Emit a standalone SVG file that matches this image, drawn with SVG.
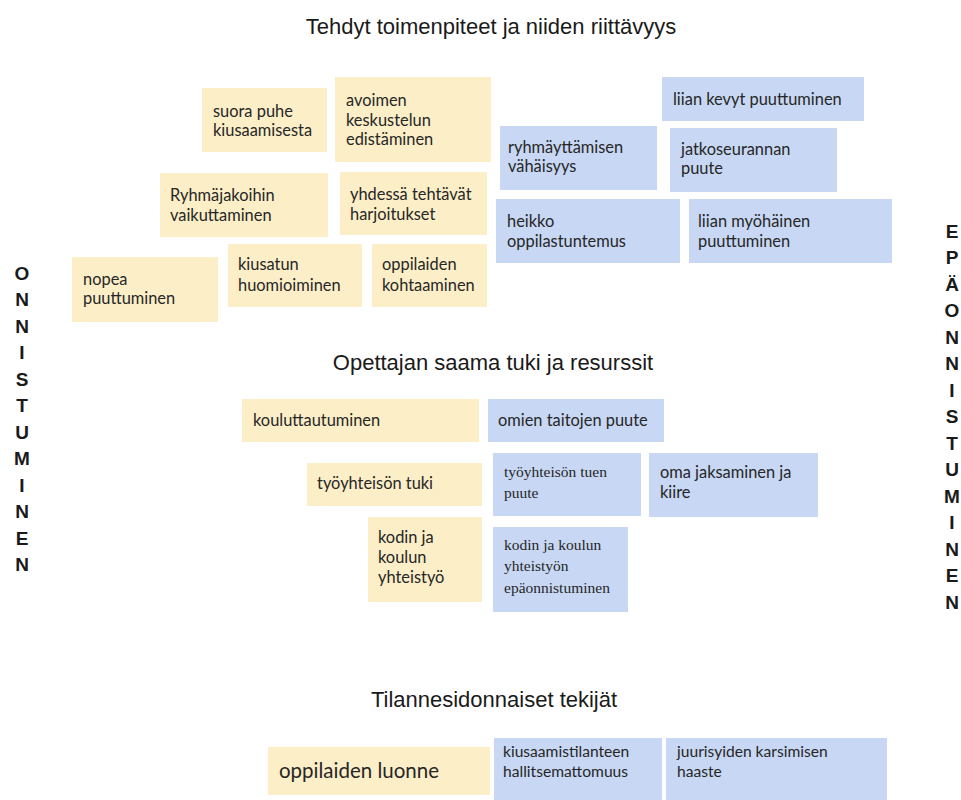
<svg xmlns="http://www.w3.org/2000/svg" width="961" height="800" viewBox="0 0 961 800">
<style>
.y{fill:#FCEFC8}
.b{fill:#C8D8F4}
.t{font-family:Lato,"Open Sans","Liberation Sans",sans-serif;font-size:16.4px;fill:#262626}
.s{font-family:"Liberation Serif","DejaVu Serif",serif;font-size:15.5px;fill:#262626}
.h{font-family:"Liberation Sans",Arial,sans-serif;font-size:22px;fill:#1a1a1a;text-anchor:middle}
.v{font-family:"Liberation Sans",Arial,sans-serif;font-size:19px;font-weight:bold;fill:#1a1a1a;text-anchor:middle}
</style>
<rect width="961" height="800" fill="#ffffff"/>
<g id="titles">
<text class="h" x="491" y="34">Tehdyt toimenpiteet ja niiden riittävyys</text>
<text class="h" x="493" y="370">Opettajan saama tuki ja resurssit</text>
<text class="h" x="494" y="707">Tilannesidonnaiset tekijät</text>
</g>
<g id="side-left">
<text class="v"><tspan x="22" y="279.5">O</tspan><tspan x="22" y="306">N</tspan><tspan x="22" y="332.5">N</tspan><tspan x="22" y="359">I</tspan><tspan x="22" y="385.5">S</tspan><tspan x="22" y="412">T</tspan><tspan x="22" y="438.5">U</tspan><tspan x="22" y="465">M</tspan><tspan x="22" y="491.5">I</tspan><tspan x="22" y="518">N</tspan><tspan x="22" y="544.5">E</tspan><tspan x="22" y="571">N</tspan></text>
</g>
<g id="side-right">
<text class="v"><tspan x="952" y="237.5">E</tspan><tspan x="952" y="264">P</tspan><tspan x="952" y="290.5">Ä</tspan><tspan x="952" y="317">O</tspan><tspan x="952" y="343.5">N</tspan><tspan x="952" y="370">N</tspan><tspan x="952" y="396.5">I</tspan><tspan x="952" y="423">S</tspan><tspan x="952" y="449.5">T</tspan><tspan x="952" y="476">U</tspan><tspan x="952" y="502.5">M</tspan><tspan x="952" y="529">I</tspan><tspan x="952" y="555.5">N</tspan><tspan x="952" y="582">E</tspan><tspan x="952" y="608.5">N</tspan></text>
</g>
<g id="connectors"></g>

<g id="n-suora-puhe"><rect class="y" x="202" y="88" width="125" height="64"/><text class="t"><tspan x="213" y="116.5">suora puhe</tspan><tspan x="213" y="136">kiusaamisesta</tspan></text></g>
<g id="n-avoimen"><rect class="y" x="335" y="77" width="156" height="85"/><text class="t"><tspan x="346" y="106">avoimen</tspan><tspan x="346" y="125.5">keskustelun</tspan><tspan x="346" y="145">edistäminen</tspan></text></g>
<g id="n-ryhmajakoihin"><rect class="y" x="160" y="173" width="168" height="64"/><text class="t"><tspan x="170" y="201">Ryhmäjakoihin</tspan><tspan x="170" y="220.5">vaikuttaminen</tspan></text></g>
<g id="n-yhdessa"><rect class="y" x="340" y="172" width="147" height="63"/><text class="t"><tspan x="350" y="200">yhdessä tehtävät</tspan><tspan x="350" y="219.5">harjoitukset</tspan></text></g>
<g id="n-nopea"><rect class="y" x="72" y="257" width="146" height="65"/><text class="t"><tspan x="83" y="285">nopea</tspan><tspan x="83" y="304">puuttuminen</tspan></text></g>
<g id="n-kiusatun"><rect class="y" x="228" y="244" width="134" height="63"/><text class="t"><tspan x="238" y="270">kiusatun</tspan><tspan x="238" y="290.5">huomioiminen</tspan></text></g>
<g id="n-oppilaiden-kohtaaminen"><rect class="y" x="372" y="244" width="115" height="63"/><text class="t"><tspan x="382" y="270">oppilaiden</tspan><tspan x="382" y="290.5">kohtaaminen</tspan></text></g>

<g id="n-liian-kevyt"><rect class="b" x="662" y="77" width="202" height="44"/><text class="t" x="673" y="105">liian kevyt puuttuminen</text></g>
<g id="n-ryhmayttamisen"><rect class="b" x="500" y="126" width="157" height="64"/><text class="t"><tspan x="508" y="153">ryhmäyttämisen</tspan><tspan x="508" y="172">vähäisyys</tspan></text></g>
<g id="n-jatkoseurannan"><rect class="b" x="670" y="128" width="167" height="64"/><text class="t"><tspan x="681" y="155">jatkoseurannan</tspan><tspan x="681" y="174">puute</tspan></text></g>
<g id="n-heikko"><rect class="b" x="496" y="199" width="184" height="64"/><text class="t"><tspan x="507" y="227">heikko</tspan><tspan x="507" y="247">oppilastuntemus</tspan></text></g>
<g id="n-liian-myohainen"><rect class="b" x="689" y="199" width="203" height="64"/><text class="t"><tspan x="698" y="227">liian myöhäinen</tspan><tspan x="698" y="247">puuttuminen</tspan></text></g>

<g id="n-kouluttautuminen"><rect class="y" x="242" y="399" width="237" height="43"/><text class="t" x="253" y="426">kouluttautuminen</text></g>
<g id="n-tyoyhteison-tuki"><rect class="y" x="307" y="463" width="175" height="43"/><text class="t" x="317" y="489">työyhteisön tuki</text></g>
<g id="n-kodin-koulun"><rect class="y" x="368" y="517" width="114" height="85"/><text class="t"><tspan x="378" y="543">kodin ja</tspan><tspan x="378" y="563">koulun</tspan><tspan x="378" y="583">yhteistyö</tspan></text></g>
<g id="n-omien-taitojen"><rect class="b" x="488" y="399" width="176" height="43"/><text class="t" x="498" y="426">omien taitojen puute</text></g>
<g id="n-tyoyhteison-tuen-puute"><rect class="b" x="493" y="453" width="148" height="63"/><text class="s"><tspan x="504" y="477">työyhteisön tuen</tspan><tspan x="504" y="498">puute</tspan></text></g>
<g id="n-oma-jaksaminen"><rect class="b" x="649" y="453" width="169" height="64"/><text class="t"><tspan x="660" y="478">oma jaksaminen ja</tspan><tspan x="660" y="498">kiire</tspan></text></g>
<g id="n-kodin-epaonnistuminen"><rect class="b" x="493" y="527" width="135" height="85"/><text class="s"><tspan x="504" y="550">kodin ja koulun</tspan><tspan x="504" y="571">yhteistyön</tspan><tspan x="504" y="593">epäonnistuminen</tspan></text></g>

<g id="n-oppilaiden-luonne"><rect class="y" x="268" y="747" width="222" height="48"/><text class="t" x="279" y="778" style="font-size:20.5px">oppilaiden luonne</text></g>
<g id="n-kiusaamistilanteen"><rect class="b" x="494" y="738" width="168" height="62"/><text class="t" style="font-size:15.6px"><tspan x="503" y="757">kiusaamistilanteen</tspan><tspan x="503" y="777">hallitsemattomuus</tspan></text></g>
<g id="n-juurisyiden"><rect class="b" x="666" y="738" width="221" height="62"/><text class="t" style="font-size:15.6px"><tspan x="677" y="757">juurisyiden karsimisen</tspan><tspan x="677" y="777">haaste</tspan></text></g>
</svg>
